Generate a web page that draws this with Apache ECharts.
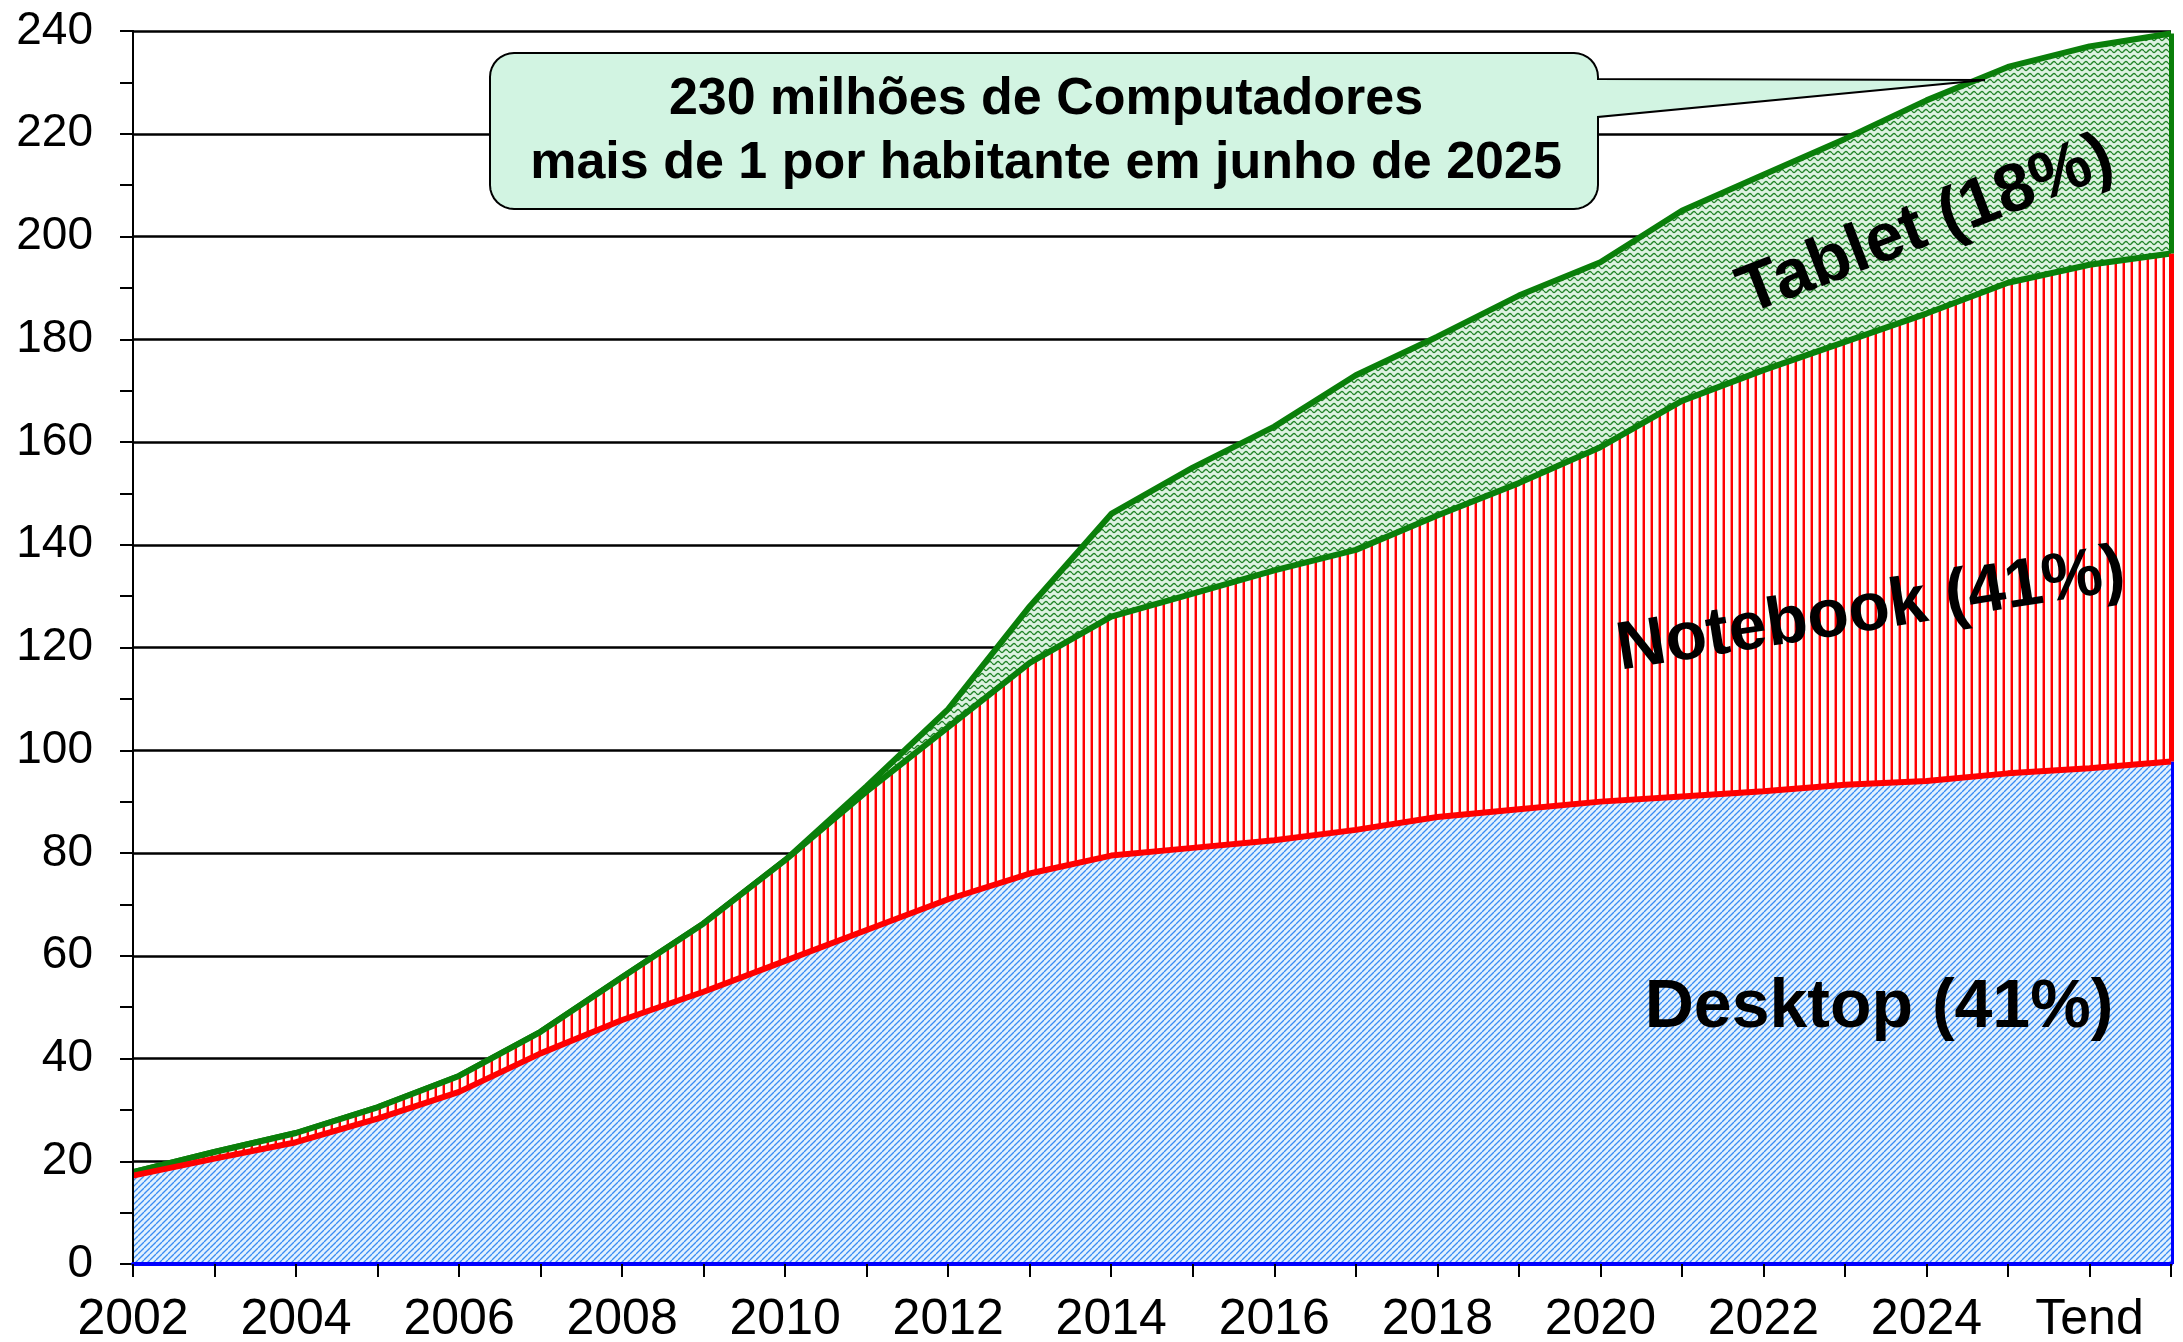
<!DOCTYPE html>
<html>
<head>
<meta charset="utf-8">
<title>Computadores</title>
<script src="https://cdn.jsdelivr.net/npm/echarts@6.0.0/dist/echarts.min.js"></script>
<style>
  html, body { margin: 0; padding: 0; background: #fff; }
  #chart { width: 2183px; height: 1342px; }
</style>
</head>
<body>
<div id="chart"></div>
<script>
// anos (2026 = "Tend", 2027 = fim da área)
const years = ['2002', '2003', '2004', '2005', '2006', '2007', '2008', '2009', '2010', '2011', '2012', '2013',
  '2014', '2015', '2016', '2017', '2018', '2019', '2020', '2021', '2022', '2023', '2024', '2025', '2026', '2027'];
const xLabels = ['2002', '', '2004', '', '2006', '', '2008', '', '2010', '', '2012', '',
  '2014', '', '2016', '', '2018', '', '2020', '', '2022', '', '2024', '', 'Tend', ''];

// milhões de unidades
const desktop = [17.2, 20.5, 23.7, 28.3, 33.5, 41, 47.5, 53, 59, 65, 71, 76,
  79.5, 81, 82.5, 84.5, 87, 88.5, 90, 91, 92, 93.3, 94, 95.5, 96.5, 97.8];
const notebook = [0.7, 1.3, 1.8, 2.2, 3.1, 4.2, 8.3, 13.3, 19.6, 27, 33.5, 41,
  46.5, 49.5, 52.5, 54.5, 58.7, 63.5, 69, 77, 82, 86.2, 91, 95.5, 98, 98.9];
const tablet = [0, 0, 0, 0, 0, 0, 0, 0, 0, 1, 3.5, 11,
  20, 24.5, 28, 34, 34.8, 36.5, 36, 37, 38, 39.5, 41.5, 42, 42.5, 42.8];

const GREEN = '#0a7f0a';
const RED = '#ff0000';
const BLUE = '#0000ff';

function pattern(w, h, bg, draw) {
  const c = document.createElement('canvas');
  c.width = w; c.height = h;
  const g = c.getContext('2d');
  g.fillStyle = bg;
  g.fillRect(0, 0, w, h);
  draw(g);
  return { image: c, repeat: 'repeat' };
}

// hachuras no estilo do Excel
const patDesktop = pattern(6, 6, '#e2f1ff', g => {
  g.strokeStyle = '#3a8cf2';
  g.lineWidth = 1.3;
  [-6, 0, 6].forEach(k => {
    g.beginPath(); g.moveTo(k, 6); g.lineTo(k + 6, 0); g.stroke();
  });
});
const patNotebook = pattern(8, 8, '#fffdf9', g => {
  g.fillStyle = '#ff8c8c';
  g.fillRect(2, 0, 1, 8);
  g.fillStyle = RED;
  g.fillRect(3, 0, 2, 8);
});
const patTablet = pattern(8, 6, '#ddf2e1', g => {
  g.strokeStyle = '#23852a';
  g.lineWidth = 1.4;
  g.beginPath();
  for (let x = 0; x <= 8; x += 0.5) {
    const y = 3 + 1.5 * Math.sin(2 * Math.PI * x / 8);
    if (x === 0) g.moveTo(x, y); else g.lineTo(x, y);
  }
  g.stroke();
});

const last = years.length - 1;
const dEnd = desktop[last];
const nEnd = dEnd + notebook[last];
const tEnd = nEnd + tablet[last];

function edge(color, y0, y1) {
  return {
    silent: true,
    symbol: ['none', 'none'],
    label: { show: false },
    lineStyle: { color: color, width: 5, type: 'solid' },
    data: [[{ coord: [years[last], y0] }, { coord: [years[last], y1] }]]
  };
}

// balão de texto: retângulo arredondado com ponteiro
function callout(x1, y1, x2, y2, r, pTop, pBot, tip) {
  const pts = [];
  const arc = (cx, cy, a0, a1) => {
    for (let i = 0; i <= 8; i++) {
      const a = (a0 + (a1 - a0) * i / 8) * Math.PI / 180;
      pts.push([cx + r * Math.cos(a), cy + r * Math.sin(a)]);
    }
  };
  arc(x2 - r, y1 + r, -90, 0);
  pts.push([x2, pTop], tip, [x2, pBot]);
  arc(x2 - r, y2 - r, 0, 90);
  arc(x1 + r, y2 - r, 90, 180);
  arc(x1 + r, y1 + r, 180, 270);
  return pts;
}

const FONT = '"Liberation Sans", Arial, sans-serif';

const chart = echarts.init(document.getElementById('chart'));
chart.setOption({
  animation: false,
  backgroundColor: '#fff',
  grid: { left: 133, right: 12, top: 31, bottom: 78, outerBoundsMode: 'none' },
  xAxis: {
    type: 'category',
    data: years,
    boundaryGap: false,
    z: 10,
    axisLine: { lineStyle: { color: BLUE, width: 4 } },
    axisTick: { interval: 0, length: 13, lineStyle: { color: '#000', width: 2 } },
    axisLabel: {
      interval: 0,
      margin: 31,
      color: '#000',
      fontFamily: FONT,
      fontSize: 50,
      formatter: (v, i) => xLabels[i]
    },
    splitLine: { show: false }
  },
  yAxis: [{
    type: 'value',
    min: 0,
    max: 240,
    interval: 20,
    axisLine: { show: true, lineStyle: { color: '#000', width: 2 } },
    axisTick: { show: true, length: 13, lineStyle: { color: '#000', width: 2 } },
    minorTick: { show: true, splitNumber: 2, length: 13, lineStyle: { color: '#000', width: 2 } },
    axisLabel: { margin: 40, color: '#000', fontFamily: FONT, fontSize: 46 },
    splitLine: { show: true, lineStyle: { color: '#000', width: 2.5 } }
  }, {
    type: 'value',
    min: 0,
    max: 240,
    interval: 20,
    position: 'left',
    z: 10,
    axisLine: { show: true, lineStyle: { color: '#000', width: 2 } },
    axisTick: { show: false },
    axisLabel: { show: false },
    splitLine: { show: false }
  }],
  series: [{
    name: 'Desktop',
    type: 'line',
    stack: 'total',
    data: desktop,
    symbol: 'none',
    z: 5,
    lineStyle: { color: RED, width: 6 },
    areaStyle: { color: patDesktop, opacity: 1 },
    markLine: edge(BLUE, 0, dEnd)
  }, {
    name: 'Notebook',
    type: 'line',
    stack: 'total',
    data: notebook,
    symbol: 'none',
    z: 4,
    lineStyle: { color: GREEN, width: 6 },
    areaStyle: { color: patNotebook, opacity: 1 },
    markLine: edge(RED, dEnd, nEnd)
  }, {
    name: 'Tablet',
    type: 'line',
    stack: 'total',
    data: tablet,
    symbol: 'none',
    z: 3,
    lineStyle: { color: GREEN, width: 6 },
    areaStyle: { color: patTablet, opacity: 1 },
    markLine: edge(GREEN, nEnd, tEnd)
  }],
  graphic: [{
    type: 'polygon',
    z: 100,
    shape: { points: callout(490, 53, 1598, 209, 24, 79, 117, [1985, 80]) },
    style: { fill: '#d2f4e2', stroke: '#000', lineWidth: 2 }
  }, {
    type: 'text',
    z: 101,
    x: 1046, y: 132,
    style: {
      text: '230 milhões de Computadores\nmais de 1 por habitante em junho de 2025',
      font: 'bold 52px ' + FONT,
      lineHeight: 64,
      fill: '#000',
      textAlign: 'center',
      textVerticalAlign: 'middle'
    }
  }, {
    type: 'text',
    z: 101,
    x: 1926, y: 226,
    rotation: 21 * Math.PI / 180,
    style: { text: 'Tablet (18%)', font: 'bold 68px ' + FONT, fill: '#000', textAlign: 'center', textVerticalAlign: 'middle' }
  }, {
    type: 'text',
    z: 101,
    x: 1871, y: 611,
    rotation: 9 * Math.PI / 180,
    style: { text: 'Notebook (41%)', font: 'bold 68px ' + FONT, fill: '#000', textAlign: 'center', textVerticalAlign: 'middle' }
  }, {
    type: 'text',
    z: 101,
    x: 1879, y: 1008,
    style: { text: 'Desktop (41%)', font: 'bold 68px ' + FONT, fill: '#000', textAlign: 'center', textVerticalAlign: 'middle' }
  }]
});
</script>
</body>
</html>
